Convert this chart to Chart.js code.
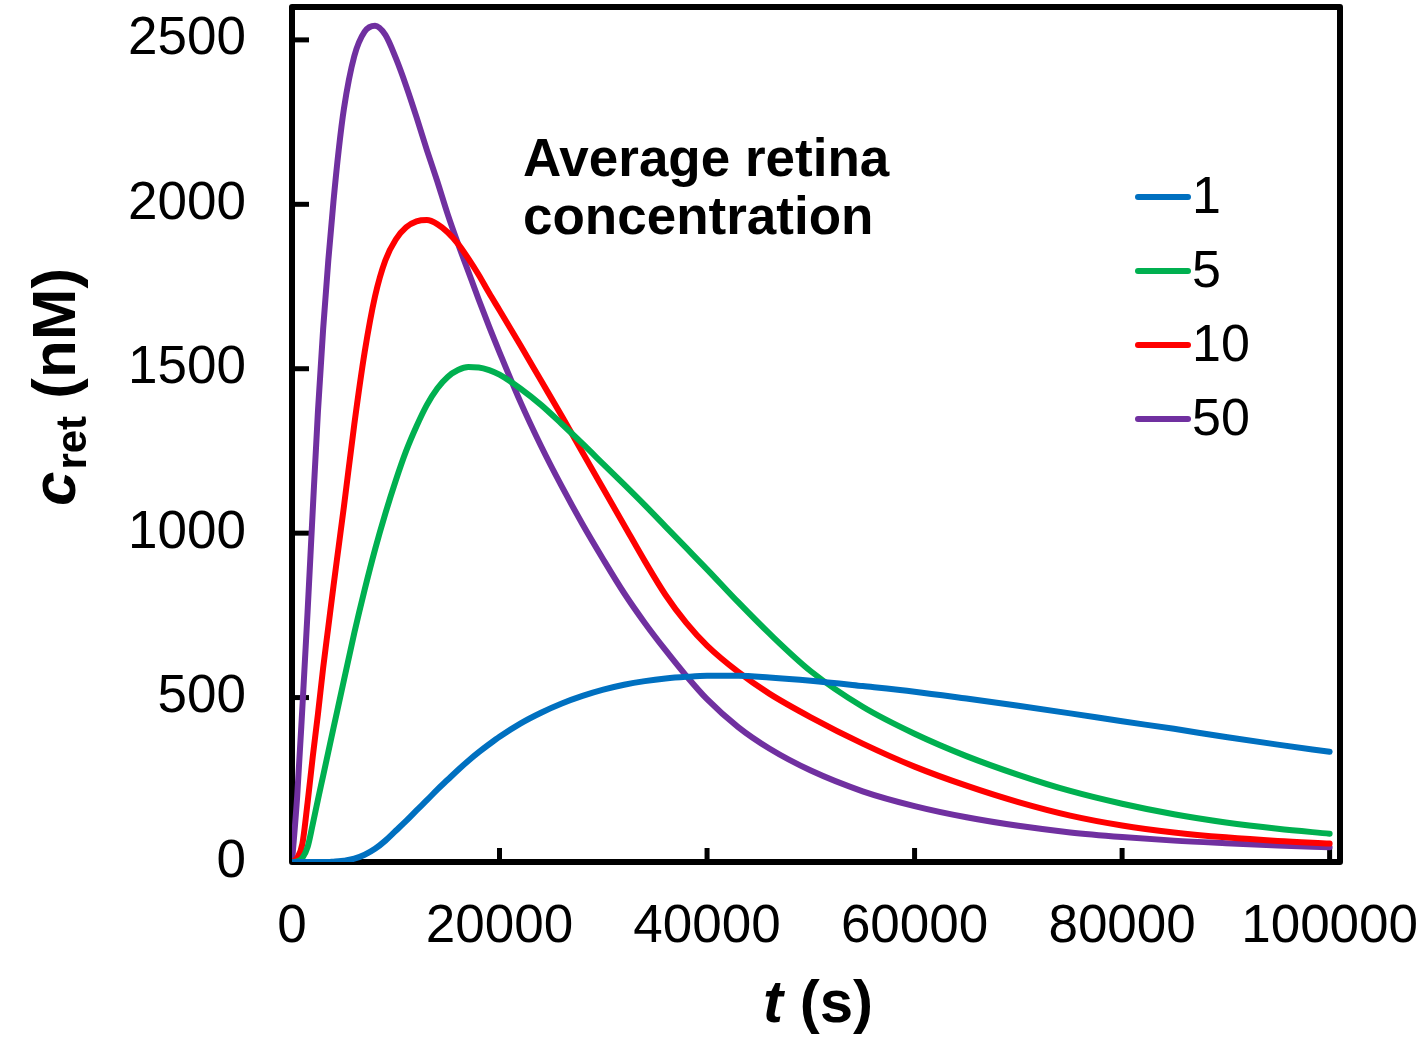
<!DOCTYPE html>
<html lang="en">
<head>
    <meta charset="UTF-8">
    <title>Average retina concentration</title>
    <script src="https://cdn.jsdelivr.net/npm/chart.js"></script>
    <style>
        body {
            margin: 0;
            padding: 0;
            background: #ffffff;
        }
        .wrap {
            width: 1424px;
            height: 1038px;
        }
    </style>
</head>
<body>
    <div class="wrap">
        <canvas id="retChart" width="1424" height="1038"></canvas>
    </div>

    <script>
        // Time points (s) and concentration per dose (nM)
        const tSec = [0, 500, 1000, 1500, 2000, 2500, 3000, 3500, 4000, 4500, 5000, 6000, 7000, 8000, 9000,
            10000, 11000, 12000, 13000, 14000, 15000, 16000, 17000, 18000, 19000, 20000, 22000, 24000, 26000,
            28000, 30000, 32000, 34000, 36000, 38000, 40000, 43000, 46000, 50000, 55000, 60000, 65000, 70000,
            75000, 80000, 85000, 90000, 95000, 100000];

        const conc1 = [0, 0, 0, 0, 0, 0, 0, 0, 1, 2, 4, 10, 22, 40, 65,
            95, 125, 157, 188, 220, 250, 280, 308, 334, 358, 381, 421, 454, 482,
            505, 524, 539, 550, 558, 563, 566, 566, 561, 551, 535, 518, 497, 475,
            452, 428, 405, 380, 357, 335];

        const conc5 = [0, 2, 12, 45, 115, 190, 262, 335, 408, 480, 552, 696, 828, 950, 1060,
            1160, 1250, 1325, 1390, 1440, 1475, 1496, 1505, 1504, 1496, 1482, 1440, 1390, 1332,
            1272, 1210, 1148, 1085, 1020, 955, 890, 790, 695, 580, 472, 390, 322, 265,
            216, 177, 145, 120, 101, 86];

        const conc10 = [0, 12, 55, 180, 320, 450, 590, 715, 840, 960, 1080, 1330, 1550, 1720, 1830,
            1893, 1930, 1948, 1952, 1940, 1915, 1880, 1835, 1785, 1730, 1678, 1572, 1464, 1356,
            1245, 1135, 1025, 915, 812, 727, 658, 578, 512, 440, 360, 290, 232, 182,
            141, 111, 90, 75, 64, 56];

        const conc50 = [0, 200, 470, 760, 1070, 1370, 1620, 1830, 2010, 2165, 2290, 2450, 2525, 2543, 2515,
            2445, 2360, 2265, 2165, 2070, 1970, 1880, 1795, 1710, 1628, 1550, 1400, 1265, 1142,
            1027, 920, 818, 727, 644, 566, 495, 410, 345, 278, 215, 170, 136, 110,
            90, 76, 65, 57, 50, 45];

        const seriesLabels = ['1', '5', '10', '50'];
        const seriesColors = ['#0070C0', '#00B050', '#FF0000', '#7030A0'];
        const xTicks = [0, 20000, 40000, 60000, 80000, 100000];
        const yTicks = [0, 500, 1000, 1500, 2000, 2500];

        const FONT = "'Liberation Sans', Arial, sans-serif";

        const toPoints = (vals) => tSec.map((t, i) => ({ x: t, y: vals[i] }));

        // Box, inward ticks, titles, legend and note
        const decorPlugin = {
            id: 'decor',
            beforeDatasetsDraw(chart) {
                const ctx = chart.ctx;
                const a = chart.chartArea;
                const xs = chart.scales.x;
                const ys = chart.scales.y;
                ctx.save();
                ctx.strokeStyle = '#000';
                ctx.lineWidth = 5;
                ctx.lineCap = 'butt';
                xTicks.forEach(v => {
                    const px = xs.getPixelForValue(v);
                    ctx.beginPath();
                    ctx.moveTo(px, a.bottom);
                    ctx.lineTo(px, a.bottom - 14);
                    ctx.stroke();
                });
                yTicks.forEach(v => {
                    const py = ys.getPixelForValue(v);
                    ctx.beginPath();
                    ctx.moveTo(a.left, py);
                    ctx.lineTo(a.left + 17, py);
                    ctx.stroke();
                });
                ctx.lineWidth = 6;
                ctx.lineJoin = 'round';
                ctx.strokeRect(a.left, a.top, a.right - a.left, a.bottom - a.top);
                ctx.restore();
            },
            afterDraw(chart) {
                const ctx = chart.ctx;
                ctx.save();
                ctx.fillStyle = '#000';
                ctx.textBaseline = 'alphabetic';

                // x title: t (s)
                ctx.font = `italic bold 60px ${FONT}`;
                const wT = ctx.measureText('t').width;
                ctx.font = `bold 60px ${FONT}`;
                const wRest = ctx.measureText(' (s)').width;
                let x0 = 818 - (wT + wRest) / 2;
                ctx.font = `italic bold 60px ${FONT}`;
                ctx.fillText('t', x0, 1022);
                ctx.font = `bold 60px ${FONT}`;
                ctx.fillText(' (s)', x0 + wT, 1022);

                // y title: c_ret (nM)
                ctx.save();
                ctx.translate(75, 387);
                ctx.rotate(-Math.PI / 2);
                ctx.font = `italic bold 62px ${FONT}`;
                const wc = ctx.measureText('c').width;
                ctx.font = `bold 42px ${FONT}`;
                const wr = ctx.measureText('ret').width;
                ctx.font = `bold 62px ${FONT}`;
                const wn = ctx.measureText(' (nM)').width;
                let s = -(wc + wr + wn + 2) / 2;
                ctx.font = `italic bold 62px ${FONT}`;
                ctx.fillText('c', s, 0);
                ctx.font = `bold 42px ${FONT}`;
                ctx.fillText('ret', s + wc + 2, 11);
                ctx.font = `bold 62px ${FONT}`;
                ctx.fillText(' (nM)', s + wc + wr + 2, 0);
                ctx.restore();

                // note
                ctx.font = `bold 53px ${FONT}`;
                ctx.textAlign = 'left';
                ctx.fillText('Average retina', 523, 176);
                ctx.fillText('concentration', 523, 234);

                // legend
                ctx.font = `52px ${FONT}`;
                ctx.textBaseline = 'middle';
                chart.data.datasets.forEach((ds, i) => {
                    const y = 197 + 74 * i;
                    ctx.strokeStyle = ds.borderColor;
                    ctx.lineWidth = 6;
                    ctx.lineCap = 'round';
                    ctx.beginPath();
                    ctx.moveTo(1138, y);
                    ctx.lineTo(1188, y);
                    ctx.stroke();
                    ctx.fillText(ds.label, 1192, y + 2);
                });
                ctx.restore();
            }
        };

        const fitScale = (size, prop) => (scale) => {
            scale[prop] = size;
            scale.paddingTop = 0;
            scale.paddingBottom = 0;
            scale.paddingLeft = 0;
            scale.paddingRight = 0;
        };

        const chartContext = document.getElementById('retChart').getContext('2d');
        const retChart = new Chart(chartContext, {
            type: 'line',
            data: {
                datasets: [conc1, conc5, conc10, conc50].map((vals, i) => ({
                    label: seriesLabels[i],
                    data: toPoints(vals),
                    borderColor: seriesColors[i],
                    backgroundColor: seriesColors[i],
                    borderWidth: 6,
                    pointRadius: 0,
                    fill: false,
                    cubicInterpolationMode: 'monotone',
                    borderCapStyle: 'round',
                    borderJoinStyle: 'round'
                }))
            },
            options: {
                responsive: false,
                animation: false,
                devicePixelRatio: 1,
                layout: {
                    padding: { top: 7, right: 84, left: 0, bottom: 0 }
                },
                scales: {
                    x: {
                        type: 'linear',
                        min: 0,
                        max: 101000,
                        grid: { display: false, drawTicks: false },
                        border: { display: false },
                        afterBuildTicks: (scale) => { scale.ticks = xTicks.map(v => ({ value: v })); },
                        afterFit: fitScale(176, 'height'),
                        ticks: {
                            color: '#000',
                            font: { family: FONT, size: 53 },
                            padding: 34,
                            maxRotation: 0,
                            autoSkip: false,
                            callback: (v) => String(v)
                        }
                    },
                    y: {
                        min: 0,
                        max: 2600,
                        grid: { display: false, drawTicks: false },
                        border: { display: false },
                        afterBuildTicks: (scale) => { scale.ticks = yTicks.map(v => ({ value: v })); },
                        afterFit: fitScale(292, 'width'),
                        ticks: {
                            color: '#000',
                            font: { family: FONT, size: 53 },
                            padding: 46,
                            autoSkip: false,
                            callback: (v) => String(v)
                        }
                    }
                },
                plugins: {
                    legend: { display: false },
                    tooltip: { enabled: false }
                }
            },
            plugins: [decorPlugin]
        });
    </script>
</body>
</html>
